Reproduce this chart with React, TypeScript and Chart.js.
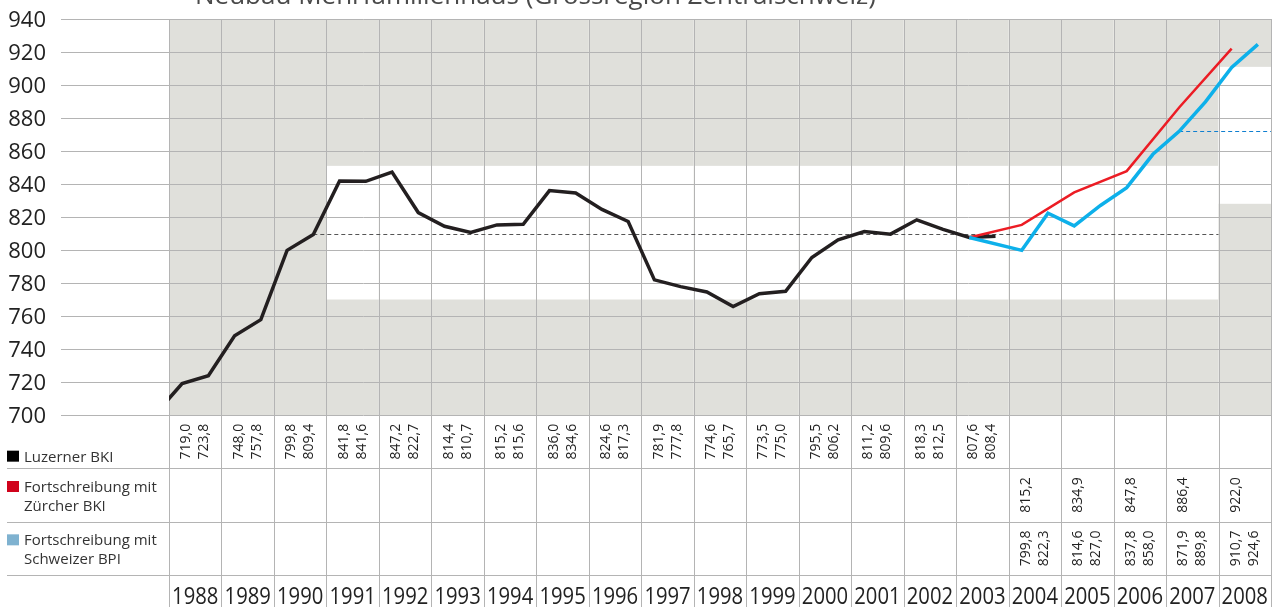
import React, { useEffect, useRef } from "react";
import { Chart, registerables } from "chart.js";

Chart.register(...registerables);

const title = "Neubau Mehrfamilienhaus (Grossregion Zentralschweiz)";
const years = [1988, 1989, 1990, 1991, 1992, 1993, 1994, 1995, 1996, 1997, 1998, 1999, 2000, 2001, 2002, 2003, 2004, 2005, 2006, 2007, 2008];
const yTicks = [700, 720, 740, 760, 780, 800, 820, 840, 860, 880, 900, 920, 940];

// Luzerner BKI: two half-year values per year
const luzernerYears = [1988, 1989, 1990, 1991, 1992, 1993, 1994, 1995, 1996, 1997, 1998, 1999, 2000, 2001, 2002, 2003];
const luzernerValues = [
  [719.0, 723.8], [748.0, 757.8], [799.8, 809.4], [841.8, 841.6], [847.2, 822.7], [814.4, 810.7],
  [815.2, 815.6], [836.0, 834.6], [824.6, 817.3], [781.9, 777.8], [774.6, 765.7], [773.5, 775.0],
  [795.5, 806.2], [811.2, 809.6], [818.3, 812.5], [807.6, 808.4],
];
const luzernerLeadIn = 701.0; // value of the preceding half-year, cut by the left edge

// Fortschreibung mit Zürcher BKI (one value per year)
const forecastYears = [2004, 2005, 2006, 2007, 2008];
const zuercherValues = [815.2, 834.9, 847.8, 886.4, 922.0];
// Fortschreibung mit Schweizer BPI (two values per year)
const schweizerValues = [[799.8, 822.3], [814.6, 827.0], [837.8, 858.0], [871.9, 889.8], [910.7, 924.6]];

// Reference lines and tolerance bands
const refLuzern = 810;
const refForecast = 871.9;
const bandLow = [null, null, null, 770, 770, 770, 770, 770, 770, 770, 770, 770, 770, 770, 770, 770, 770, 770, 770, 770, 828];
const bandHigh = [null, null, null, 851, 851, 851, 851, 851, 851, 851, 851, 851, 851, 851, 851, 851, 851, 851, 851, 851, 911];

const legendRows = [
  { color: "#000000", lines: ["Luzerner BKI"] },
  { color: "#d0021b", lines: ["Fortschreibung mit", "Zürcher BKI"] },
  { color: "#7fb2d0", lines: ["Fortschreibung mit", "Schweizer BPI"] },
];

const fmt = (v: number) => v.toFixed(1).replace(".", ",");

const FONT = "'Open Sans', 'Noto Sans', sans-serif";
const GRID = "#b4b4b4";
const GRAY = "#e0e0db";

const backdrop = {
  id: "backdrop",
  beforeDatasetsDraw(chart: any) {
    const ctx = chart.ctx as CanvasRenderingContext2D;
    const xs = chart.scales.x;
    const ys = chart.scales.y;
    const { right, top, bottom } = chart.chartArea;
    const H = chart.height;
    const rowH = (H - bottom) / 3.6;
    const r1 = bottom + rowH;
    const r2 = r1 + rowH;
    const r3 = r2 + rowH;

    ctx.save();
    // title (partly cut by the top edge)
    ctx.fillStyle = "#4a4a4a";
    ctx.font = `26px ${FONT}`;
    ctx.textAlign = "left";
    ctx.textBaseline = "alphabetic";
    ctx.fillText(title, 195, 4);

    // bands
    years.forEach((yr, i) => {
      const x0 = xs.getPixelForValue(yr);
      const x1 = xs.getPixelForValue(yr + 1);
      ctx.fillStyle = GRAY;
      ctx.fillRect(x0, top, x1 - x0, bottom - top);
      if (bandLow[i] != null && bandHigh[i] != null) {
        const yT = ys.getPixelForValue(bandHigh[i] as number);
        const yB = ys.getPixelForValue(bandLow[i] as number);
        ctx.fillStyle = "#ffffff";
        ctx.fillRect(x0, yT, x1 - x0, yB - yT);
      }
    });

    // horizontal grid + tick labels
    ctx.strokeStyle = GRID;
    ctx.lineWidth = 1;
    yTicks.forEach((v) => {
      const y = Math.round(ys.getPixelForValue(v)) + 0.5;
      ctx.beginPath();
      ctx.moveTo(61, y);
      ctx.lineTo(right, y);
      ctx.stroke();
    });
    ctx.fillStyle = "#222";
    ctx.font = `22px ${FONT}`;
    ctx.textAlign = "right";
    ctx.textBaseline = "middle";
    yTicks.forEach((v) => {
      const y = ys.getPixelForValue(v);
      ctx.fillText(String(v), 46, y + 2);
    });

    // vertical grid through plot and table
    const bounds = [...years, years[years.length - 1] + 1];
    bounds.forEach((yr) => {
      const x = Math.round(xs.getPixelForValue(yr)) + 0.5;
      ctx.beginPath();
      ctx.moveTo(x, top);
      ctx.lineTo(x, H);
      ctx.stroke();
    });

    // table row lines
    [r1, r2, r3].forEach((y) => {
      const yy = Math.round(y) + 0.5;
      ctx.beginPath();
      ctx.moveTo(7, yy);
      ctx.lineTo(right, yy);
      ctx.stroke();
    });

    // reference lines
    ctx.setLineDash([4, 3]);
    ctx.strokeStyle = "#555555";
    let y = Math.round(ys.getPixelForValue(refLuzern)) + 0.5;
    ctx.beginPath();
    ctx.moveTo(xs.getPixelForValue(1990.75), y);
    ctx.lineTo(xs.getPixelForValue(2008), y);
    ctx.stroke();
    ctx.strokeStyle = "#0f7fd0";
    ctx.lineWidth = 1.2;
    y = Math.round(ys.getPixelForValue(refForecast)) + 0.5;
    ctx.beginPath();
    ctx.moveTo(xs.getPixelForValue(2007.25), y);
    ctx.lineTo(right, y);
    ctx.stroke();
    ctx.setLineDash([]);
    ctx.lineWidth = 1;

    // legend
    const rowTops = [bottom, r1, r2];
    legendRows.forEach((row, i) => {
      const mid = rowTops[i] + rowH / 2;
      const base0 = row.lines.length === 1 ? mid + 20 : mid - 3;
      ctx.fillStyle = row.color;
      ctx.fillRect(7, base0 - 11, 12, 11);
      ctx.fillStyle = "#333";
      ctx.font = `15px ${FONT}`;
      ctx.textAlign = "left";
      ctx.textBaseline = "alphabetic";
      row.lines.forEach((t, k) => ctx.fillText(t, 24, base0 + k * 19));
    });

    // rotated table values
    const rot = (text: string, cx: number, cy: number) => {
      ctx.save();
      ctx.translate(cx, cy);
      ctx.rotate(-Math.PI / 2);
      ctx.fillText(text, 0, 0);
      ctx.restore();
    };
    ctx.fillStyle = "#222";
    ctx.font = `14px ${FONT}`;
    ctx.textAlign = "center";
    ctx.textBaseline = "middle";
    const c1 = bottom + rowH / 2;
    const c2 = r1 + rowH / 2;
    const c3 = r2 + rowH / 2;
    luzernerYears.forEach((yr, i) => {
      const cx = xs.getPixelForValue(yr + 0.5);
      rot(fmt(luzernerValues[i][0]), cx - 9, c1);
      rot(fmt(luzernerValues[i][1]), cx + 9, c1);
    });
    forecastYears.forEach((yr, i) => {
      const cx = xs.getPixelForValue(yr + 0.5);
      rot(fmt(zuercherValues[i]), cx - 9, c2);
      rot(fmt(schweizerValues[i][0]), cx - 9, c3);
      rot(fmt(schweizerValues[i][1]), cx + 9, c3);
    });

    // year labels (slightly condensed)
    ctx.fillStyle = "#222";
    ctx.font = `23px ${FONT}`;
    ctx.textAlign = "center";
    ctx.textBaseline = "alphabetic";
    years.forEach((yr) => {
      ctx.save();
      ctx.translate(xs.getPixelForValue(yr + 0.5), H - 3);
      ctx.scale(0.88, 1);
      ctx.fillText(String(yr), 0, 0);
      ctx.restore();
    });
    ctx.restore();
  },
};

export default function App() {
  const ref = useRef<HTMLCanvasElement>(null);
  useEffect(() => {
    document.body.style.margin = "0";
    const luzernerData = [{ x: 1987.75, y: luzernerLeadIn }];
    luzernerYears.forEach((yr, i) => {
      luzernerData.push({ x: yr + 0.25, y: luzernerValues[i][0] });
      luzernerData.push({ x: yr + 0.75, y: luzernerValues[i][1] });
    });
    const start = { x: 2003.25, y: luzernerValues[luzernerValues.length - 1][0] };
    const zuercherData = [start, ...forecastYears.map((yr, i) => ({ x: yr + 0.25, y: zuercherValues[i] }))];
    const schweizerData = [start];
    forecastYears.forEach((yr, i) => {
      schweizerData.push({ x: yr + 0.25, y: schweizerValues[i][0] });
      schweizerData.push({ x: yr + 0.75, y: schweizerValues[i][1] });
    });
    const chart = new Chart(ref.current as HTMLCanvasElement, {
      type: "line",
      data: {
        datasets: [
          { label: "Fortschreibung mit Schweizer BPI", data: schweizerData, borderColor: "#0db0ea", borderWidth: 3.5, pointRadius: 0, tension: 0 },
          { label: "Fortschreibung mit Zürcher BKI", data: zuercherData, borderColor: "#ec1c24", borderWidth: 2.5, pointRadius: 0, tension: 0 },
          { label: "Luzerner BKI", data: luzernerData, borderColor: "#231f20", borderWidth: 3.5, pointRadius: 0, tension: 0 },
        ],
      },
      options: {
        responsive: false,
        animation: false,
        devicePixelRatio: 1,
        layout: { padding: { left: 169, right: 8, top: 19, bottom: 192 } },
        plugins: { legend: { display: false }, tooltip: { enabled: false }, title: { display: false } },
        scales: {
          x: { type: "linear", min: 1988, max: 2009, display: false },
          y: { type: "linear", min: 700, max: 940, display: false },
        },
      },
      plugins: [backdrop],
    });
    return () => chart.destroy();
  }, []);
  return <canvas ref={ref} width={1279} height={607} style={{ display: "block", width: 1279, height: 607 }} />;
}
